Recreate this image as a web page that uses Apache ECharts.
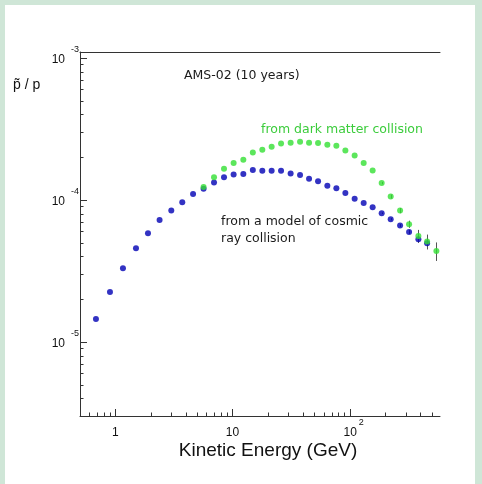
<!DOCTYPE html>
<html>
<head>
<meta charset="utf-8">
<script src="https://cdn.jsdelivr.net/npm/echarts@6/dist/echarts.min.js"></script>
<style>
  html, body { margin:0; padding:0; background:#cfe6d7; }
  #paper { position:absolute; left:5px; top:5px; width:470px; height:479px; background:#ffffff; }
  #chart { position:absolute; left:0; top:0; width:482px; height:484px; }
</style>
</head>
<body>
<div id="paper"></div>
<div id="chart"></div>
<script>
// ---- data ----
const energy = [0.684, 0.901, 1.163, 1.502, 1.901, 2.388, 3.006, 3.73, 4.61, 5.67,
  6.96, 8.47, 10.23, 12.38, 14.92, 17.98, 21.59, 25.97, 31.36, 37.73,
  45.03, 53.74, 64.5, 77.0, 91.9, 110.3, 131.7, 157.1, 187.6, 223.9,
  269.3, 321.4, 385.9, 457.9, 549.6];
const cosmicRatio = [1.445e-5, 2.245e-5, 3.30e-5, 4.56e-5, 5.82e-5, 7.22e-5, 8.40e-5, 9.63e-5, 1.097e-4, 1.196e-4,
  1.325e-4, 1.442e-4, 1.508e-4, 1.518e-4, 1.620e-4, 1.603e-4, 1.603e-4, 1.603e-4, 1.533e-4, 1.493e-4,
  1.406e-4, 1.354e-4, 1.255e-4, 1.209e-4, 1.115e-4, 1.016e-4, 9.48e-5, 8.88e-5, 8.05e-5, 7.31e-5,
  6.59e-5, 5.94e-5, 5.28e-5, 4.95e-5, null];
const cosmicErr = [0, 0, 0, 0, 0, 0, 0, 0, 0, 0,
  0, 0, 0, 0, 0, 0, 0, 0, 0, 0,
  0, 0, 0, 0, 0, 0, 0, 0, 1.0e-6, 1.3e-6,
  1.6e-6, 2.0e-6, 3.1e-6, 4.1e-6, null];
const darkMatterRatio = [null, null, null, null, null, null, null, null, null, 1.229e-4,
  1.442e-4, 1.655e-4, 1.816e-4, 1.915e-4, 2.154e-4, 2.254e-4, 2.366e-4, 2.495e-4, 2.525e-4, 2.566e-4,
  2.525e-4, 2.513e-4, 2.443e-4, 2.404e-4, 2.228e-4, 2.054e-4, 1.816e-4, 1.610e-4, 1.312e-4, 1.055e-4,
  8.40e-5, 6.74e-5, 5.57e-5, 5.08e-5, 4.36e-5];
const darkMatterErr = [null, null, null, null, null, null, null, null, null, 0,
  0, 0, 0, 0, 0, 0, 0, 0, 0, 0,
  0, 0, 0, 0, 0, 0, 0, 0, 2.5e-6, 3.4e-6,
  3.5e-6, 3.9e-6, 5.7e-6, 6.1e-6, 6.5e-6];
const xMajorTicks = [1, 10, 100];
const xMinorTicks = [0.6, 0.7, 0.8, 0.9, 2, 3, 4, 5, 6, 7, 8, 9, 20, 30, 40, 50, 60, 70, 80, 90, 200, 300, 400, 500];
const yMajorTicks = [1e-5, 1e-4, 1e-3];
const yMinorTicks = [4e-6, 5e-6, 6e-6, 7e-6, 8e-6, 9e-6, 2e-5, 3e-5, 4e-5, 5e-5, 6e-5, 7e-5, 8e-5, 9e-5,
  2e-4, 3e-4, 4e-4, 5e-4, 6e-4, 7e-4, 8e-4, 9e-4];
const xRange = [0.5, 590];
const yRange = [3e-6, 1.1e-3];

// ---- build ----
const AXIS_COLOR = '#333333';
const BLUE = '#0000b4';
const GREEN = '#33e033';

const cosmicPts = [], dmPts = [], errBars = [];
energy.forEach((e, i) => {
  if (cosmicRatio[i] != null) {
    cosmicPts.push([e, cosmicRatio[i]]);
    if (cosmicErr[i]) errBars.push([e, cosmicRatio[i] - cosmicErr[i], cosmicRatio[i] + cosmicErr[i]]);
  }
  if (darkMatterRatio[i] != null) {
    dmPts.push([e, darkMatterRatio[i]]);
    if (darkMatterErr[i]) errBars.push([e, darkMatterRatio[i] - darkMatterErr[i], darkMatterRatio[i] + darkMatterErr[i]]);
  }
});

const xTickData = xMajorTicks.map(v => [v, yRange[0], 1]).concat(xMinorTicks.map(v => [v, yRange[0], 0]));
const yTickData = yMajorTicks.map(v => [xRange[0], v, 1]).concat(yMinorTicks.map(v => [xRange[0], v, 0]));

function isPow(v) {
  const e = Math.log10(v);
  return Math.abs(e - Math.round(e)) < 1e-6;
}
const richLabel = {
  b: { fontFamily: 'Liberation Sans', fontSize: 12, color: '#111', lineHeight: 12, padding: [10, 0, 6, 0] },
  bx: { fontFamily: 'Liberation Sans', fontSize: 12, color: '#111', lineHeight: 12, padding: [10, 0, 6, 8] },
  e: { fontFamily: 'Liberation Sans', fontSize: 9, color: '#111', lineHeight: 10, padding: [1, 0, 17, 2] },
  ey: { fontFamily: 'Liberation Sans', fontSize: 9, color: '#111', lineHeight: 10, padding: [1, 0, 17, 6] }
};

const chart = echarts.init(document.getElementById('chart'), null, { renderer: 'canvas' });
chart.setOption({
  animation: false,
  backgroundColor: 'transparent',
  grid: { left: 80, right: 42, top: 52, bottom: 68, containLabel: false },
  xAxis: [{
    type: 'log', logBase: 10, min: xRange[0], max: xRange[1], position: 'bottom',
    axisLine: { show: true, lineStyle: { color: AXIS_COLOR, width: 1 } },
    axisTick: { show: false }, splitLine: { show: false }, minorTick: { show: false },
    axisLabel: {
      margin: 9, rich: richLabel,
      formatter: function (v) {
        if (!isPow(v)) return '';
        const r = Math.round(Math.log10(v));
        if (r === 0) return '{b|1}';
        if (r === 1) return '{b|10}';
        return '{bx|10}{e|' + r + '}';
      }
    }
  }, {
    type: 'log', logBase: 10, min: xRange[0], max: xRange[1], position: 'top',
    axisLine: { show: true, lineStyle: { color: AXIS_COLOR, width: 1 } },
    axisTick: { show: false }, axisLabel: { show: false }, splitLine: { show: false }
  }],
  yAxis: {
    type: 'log', logBase: 10, min: yRange[0], max: yRange[1],
    axisLine: { show: true, lineStyle: { color: AXIS_COLOR, width: 1 } },
    axisTick: { show: false }, splitLine: { show: false }, minorTick: { show: false },
    axisLabel: {
      margin: 1, rich: richLabel,
      formatter: function (v) {
        if (!isPow(v)) return '';
        const r = Math.round(Math.log10(v));
        return '{b|10}{ey|' + r + '}';
      }
    }
  },
  graphic: [
    { type: 'text', x: 13, y: 85, style: { text: 'p\u0303 / p', font: '14px "Liberation Sans"', fill: '#111', textVerticalAlign: 'middle', verticalAlign: 'middle' } },
    { type: 'text', x: 268, y: 451, style: { text: 'Kinetic Energy (GeV)', font: '19px "Liberation Sans"', fill: '#111', textAlign: 'center', align: 'center', textVerticalAlign: 'middle', verticalAlign: 'middle' } },
    { type: 'text', x: 184, y: 75.5, style: { text: 'AMS-02 (10 years)', font: '12.5px "DejaVu Sans"', fill: '#1a1a1a', textVerticalAlign: 'middle', verticalAlign: 'middle' } },
    { type: 'text', x: 261, y: 130, style: { text: 'from dark matter collision', font: '12.5px "DejaVu Sans"', fill: '#3ccc3c', textVerticalAlign: 'middle', verticalAlign: 'middle' } },
    { type: 'text', x: 221, y: 221.5, style: { text: 'from a model of cosmic', font: '12.5px "DejaVu Sans"', fill: '#1a1a1a', textVerticalAlign: 'middle', verticalAlign: 'middle' } },
    { type: 'text', x: 221, y: 239, style: { text: 'ray collision', font: '12.5px "DejaVu Sans"', fill: '#1a1a1a', textVerticalAlign: 'middle', verticalAlign: 'middle' } }
  ],
  series: [
    {
      type: 'custom', name: 'errors', z: 1, clip: false,
      encode: { x: 0, y: 1 },
      data: errBars,
      renderItem: function (params, api) {
        const lo = api.coord([api.value(0), api.value(1)]);
        const hi = api.coord([api.value(0), api.value(2)]);
        const x = Math.round(lo[0]) + 0.5;
        return { type: 'line', shape: { x1: x, y1: lo[1], x2: x, y2: hi[1] }, style: { stroke: '#555', lineWidth: 1 } };
      }
    },
    {
      type: 'scatter', name: 'cosmic', z: 2, symbol: 'circle', symbolSize: 6,
      itemStyle: { color: BLUE }, data: cosmicPts
    },
    {
      type: 'scatter', name: 'dark matter', z: 3, symbol: 'circle', symbolSize: 6,
      itemStyle: { color: GREEN }, data: dmPts
    },
    {
      type: 'custom', name: 'xticks', z: 4, clip: false, silent: true,
      encode: { x: 0, y: 1 },
      data: xTickData,
      renderItem: function (params, api) {
        const p = api.coord([api.value(0), api.value(1)]);
        const len = api.value(2) ? 7 : 3.5;
        const x = Math.round(p[0]) + 0.5;
        const y = Math.round(p[1]);
        return { type: 'line', shape: { x1: x, y1: y, x2: x, y2: y - len }, style: { stroke: AXIS_COLOR, lineWidth: 1 } };
      }
    },
    {
      type: 'custom', name: 'yticks', z: 4, clip: false, silent: true,
      encode: { x: 0, y: 1 },
      data: yTickData,
      renderItem: function (params, api) {
        const p = api.coord([api.value(0), api.value(1)]);
        const len = api.value(2) ? 7 : 3.5;
        const x = Math.round(p[0]);
        const y = Math.round(p[1]) + 0.5;
        return { type: 'line', shape: { x1: x, y1: y, x2: x + len, y2: y }, style: { stroke: AXIS_COLOR, lineWidth: 1 } };
      }
    }
  ]
});
</script>
</body>
</html>
